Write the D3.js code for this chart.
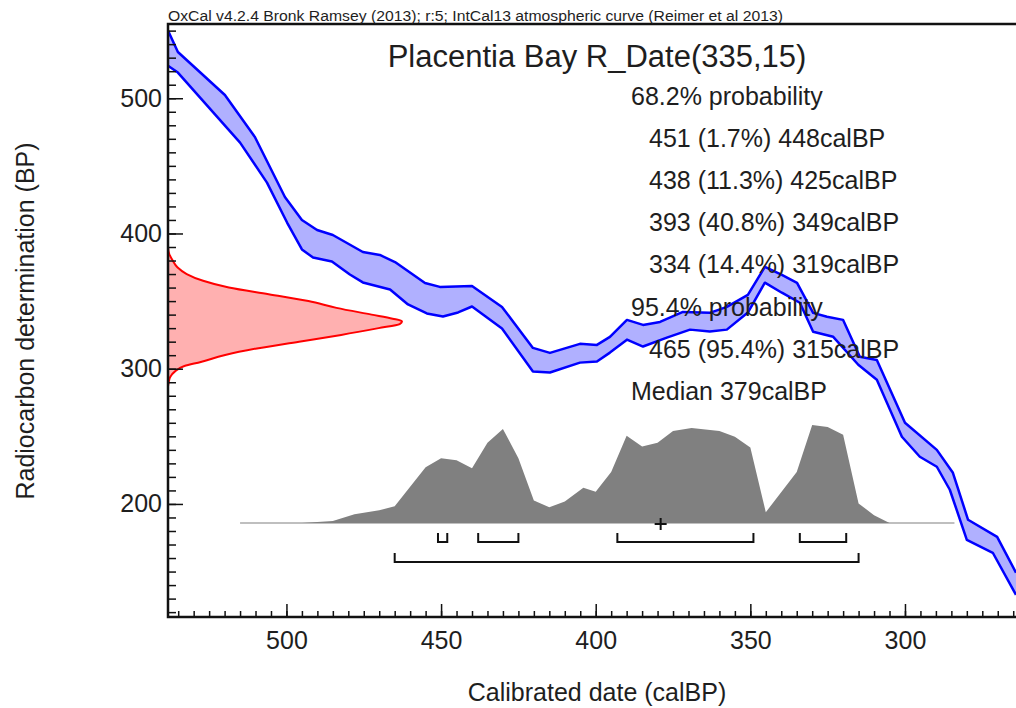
<!DOCTYPE html>
<html>
<head>
<meta charset="utf-8">
<script src="https://cdn.jsdelivr.net/npm/d3@7"></script>
<style>
  body { margin: 0; background: #fff; }
  text { font-family: "Liberation Sans", Arial, sans-serif; fill: #1e1e1e; }
</style>
</head>
<body>
<div id="wrapper"></div>
<script>
// ---- data ----
const headerText = "OxCal v4.2.4 Bronk Ramsey (2013); r:5; IntCal13 atmospheric curve (Reimer et al 2013)"
const titleText = "Placentia Bay R_Date(335,15)"
const summaryLines = [
  "68.2% probability",
  "451 (1.7%) 448calBP",
  "438 (11.3%) 425calBP",
  "393 (40.8%) 349calBP",
  "334 (14.4%) 319calBP",
  "95.4% probability",
  "465 (95.4%) 315calBP",
  "Median 379calBP",
]
const xTicks = [500, 450, 400, 350, 300]
const yTicks = [200, 300, 400, 500]

// calibration curve, upper and lower edge [calBP, BP]
const curveUpper = [[538.3, 550], [535.1, 534.2], [519.9, 502.4], [510.2, 471.3], [500.5, 427], [495, 410],
  [490.1, 402.6], [485, 398.9], [475.3, 386.3], [469.8, 384.1], [464.9, 378.9], [455.2, 363.4], [450.4, 360.5],
  [440, 361.2], [430.3, 345.7], [420.3, 315.4], [414.8, 311.7], [405.1, 318.4], [399.6, 317.6], [395.4, 323.5],
  [389.9, 336.1], [384.7, 332.4], [379.2, 334.6], [371.8, 342], [363.1, 341.3], [357.6, 345.7], [350.8, 354.6],
  [345.3, 375.3], [339.8, 369.4], [334.9, 363.5], [329.7, 341.3], [325.2, 338.4], [320, 336.1], [314.6, 308.8],
  [309.1, 306.5], [300, 260], [289.7, 240], [284.5, 223], [279.6, 188.3], [270.2, 175.7], [264.1, 149.1]]
const curveLower = [[538.3, 524], [535.1, 519], [515, 467.2], [506.3, 437.6], [499.8, 408.1], [495, 388.2],
  [491.4, 382.2], [485.3, 379.3], [479.5, 369.7], [475.3, 363.8], [466.5, 358.6], [460.7, 347.5], [454.6, 340.9],
  [449.4, 338.6], [444.5, 341.6], [440, 346], [430.3, 329.7], [420.3, 297.9], [414.8, 297.2], [405.1, 304.5],
  [399.6, 305.3], [395.4, 311.9], [389.9, 321.5], [384.7, 316.4], [377, 323], [369.5, 328.9], [363.1, 327.5],
  [357.6, 328.9], [350.8, 341.5], [345.3, 363.6], [339.8, 356.2], [334, 348.8], [329.7, 327.3], [323.2, 323.6],
  [315.1, 302.9], [309.1, 291.8], [301, 249.7], [295.2, 234.9], [289.7, 227.5], [285.5, 210.5], [280, 173.5],
  [271.6, 163.9], [264.1, 132.8]]

// radiocarbon date distribution (relative density by BP)
const rdateBP = [390, 385, 380, 375, 370, 365, 360, 355, 350, 345, 340, 337, 335, 333, 330, 325, 320, 315, 310, 305, 302, 298, 294, 290, 287]
const rdateDensity = [0, 0.005, 0.02, 0.04, 0.08, 0.15, 0.26, 0.43, 0.6, 0.72, 0.87, 0.96, 1.0, 0.99, 0.9, 0.74, 0.56, 0.38, 0.24, 0.14, 0.07, 0.03, 0.01, 0.003, 0]

// calibrated distribution (relative density by calBP)
const calBP = [515, 495, 485, 478, 470, 465, 455, 450, 445, 440, 435, 430, 425, 420, 415, 410, 404, 400, 395, 390,
  385, 380, 375, 369, 360, 355, 350, 345, 335, 330, 325, 320, 315, 310, 305, 284]
const calDensity = [0, 0, 0.02, 0.09, 0.13, 0.17, 0.57, 0.66, 0.64, 0.56, 0.82, 0.96, 0.66, 0.23, 0.16, 0.22, 0.36,
  0.32, 0.52, 0.89, 0.78, 0.82, 0.94, 0.97, 0.94, 0.88, 0.77, 0.11, 0.52, 1.0, 0.98, 0.9, 0.2, 0.08, 0, 0]

const ranges68 = [[451, 448], [438, 425], [393, 349], [334, 319]]
const ranges95 = [[465, 315]]
const median = 379

// ---- dimensions ----
const width = 1016
const height = 708
const margin = { top: 24, right: 0, bottom: 91, left: 168 }
const boundedWidth = width - margin.left - margin.right
const boundedHeight = height - margin.top - margin.bottom

const svg = d3.select("#wrapper").append("svg")
  .attr("width", width)
  .attr("height", height)

const bounds = svg.append("g")
  .attr("transform", `translate(${margin.left},${margin.top})`)

// ---- scales ----
const xScale = d3.scaleLinear()
  .domain([538.3, 264.1])
  .range([0, boundedWidth])

const yScale = d3.scaleLinear()
  .domain([116.4, 554.9])
  .range([boundedHeight, 0])

const rdateScale = d3.scaleLinear().domain([0, 1]).range([0, 234])
const histBase = yScale(185.9)
const histScale = d3.scaleLinear().domain([0, 1]).range([histBase, histBase - 98])

bounds.append("defs").append("clipPath").attr("id", "plotclip")
  .append("rect").attr("width", boundedWidth).attr("height", boundedHeight)

const plot = bounds.append("g").attr("clip-path", "url(#plotclip)")

// ---- calibration curve band ----
const line = d3.line().x(d => xScale(d[0])).y(d => yScale(d[1]))
const bandPoints = curveUpper.concat(curveLower.slice().reverse())
plot.append("path")
  .attr("d", line(bandPoints) + "Z")
  .attr("fill", "#b0b0ff")
  .attr("stroke", "none")
plot.selectAll(".edge")
  .data([curveUpper, curveLower])
  .enter().append("path")
    .attr("d", line)
    .attr("fill", "none")
    .attr("stroke", "#0000ff")
    .attr("stroke-width", 2.5)
    .attr("stroke-linejoin", "round")

// ---- radiocarbon date profile ----
const rdate = rdateBP.map((bp, i) => [bp, rdateDensity[i]])
const rdateArea = d3.area()
  .curve(d3.curveMonotoneY)
  .y(d => yScale(d[0]))
  .x0(0)
  .x1(d => rdateScale(d[1]))
plot.append("path")
  .attr("d", rdateArea(rdate))
  .attr("fill", "#ffb0b0")
const rdateLine = d3.line()
  .curve(d3.curveMonotoneY)
  .y(d => yScale(d[0]))
  .x(d => rdateScale(d[1]))
plot.append("path")
  .attr("d", rdateLine(rdate))
  .attr("fill", "none")
  .attr("stroke", "#ff0000")
  .attr("stroke-width", 2)

// ---- calibrated distribution ----
const hist = calBP.map((c, i) => [c, calDensity[i]])
const histArea = d3.area()
  .x(d => xScale(d[0]))
  .y0(histBase)
  .y1(d => histScale(d[1]))
plot.append("path")
  .attr("d", histArea(hist))
  .attr("fill", "#808080")
plot.append("line")
  .attr("x1", xScale(calBP[0]))
  .attr("x2", xScale(calBP[calBP.length - 1]))
  .attr("y1", histBase)
  .attr("y2", histBase)
  .attr("stroke", "#808080")
  .attr("stroke-width", 1.2)

// range brackets
const drawRanges = (ranges, yOff) => {
  const yy = histBase + yOff
  plot.selectAll(null)
    .data(ranges)
    .enter().append("path")
      .attr("d", d => `M${xScale(d[0])},${yy - 9}V${yy}H${xScale(d[1])}V${yy - 9}`)
      .attr("fill", "none")
      .attr("stroke", "#111")
      .attr("stroke-width", 2)
}
drawRanges(ranges68, 19)
drawRanges(ranges95, 39)

// median cross
plot.append("path")
  .attr("d", `M${xScale(median) - 6},${histBase + 1}h12M${xScale(median)},${histBase - 5}v12`)
  .attr("stroke", "#111")
  .attr("stroke-width", 2)

// ---- axes ----
const xAxis = bounds.append("g")
  .attr("transform", `translate(0,${boundedHeight})`)
xAxis.call(d3.axisBottom(xScale).tickValues(d3.range(535, 264, -5)).tickSize(-6).tickFormat(""))
xAxis.append("g").call(d3.axisBottom(xScale).tickValues(xTicks).tickSize(-13).tickPadding(14))
xAxis.selectAll(".domain").remove()
xAxis.selectAll("line").attr("stroke", "#111").attr("stroke-width", 1.5)
xAxis.selectAll("text").style("font-size", "25px").attr("fill", "#1e1e1e")

const yAxis = bounds.append("g")
yAxis.call(d3.axisLeft(yScale).tickValues(d3.range(120, 555, 10)).tickSize(-8).tickFormat(""))
yAxis.append("g").call(d3.axisLeft(yScale).tickValues(yTicks).tickSize(-15).tickPadding(6))
yAxis.selectAll(".domain").remove()
yAxis.selectAll("line").attr("stroke", "#111").attr("stroke-width", 1.5)
yAxis.selectAll("text").style("font-size", "25px").attr("fill", "#1e1e1e")

// frame
bounds.append("path")
  .attr("d", `M${boundedWidth + 2},0H0V${boundedHeight}H${boundedWidth + 2}`)
  .attr("fill", "none")
  .attr("stroke", "#111")
  .attr("stroke-width", 2.5)

// ---- texts ----
svg.append("text")
  .attr("x", margin.left)
  .attr("y", 21)
  .style("font-size", "14px")
  .attr("textLength", 615)
  .attr("lengthAdjust", "spacingAndGlyphs")
  .text(headerText)

svg.append("text")
  .attr("x", 597)
  .attr("y", 67)
  .attr("text-anchor", "middle")
  .style("font-size", "31px")
  .text(titleText)

svg.selectAll(".summary")
  .data(summaryLines)
  .enter().append("text")
    .attr("x", d => /^\d{3} /.test(d) ? 649 : 631)
    .attr("y", (d, i) => 105 + i * 42.1)
    .style("font-size", "25px")
    .text(d => d)

svg.append("text")
  .attr("x", 597)
  .attr("y", 701)
  .attr("text-anchor", "middle")
  .style("font-size", "25px")
  .text("Calibrated date (calBP)")

svg.append("text")
  .attr("transform", "translate(34,321) rotate(-90)")
  .attr("text-anchor", "middle")
  .style("font-size", "25px")
  .text("Radiocarbon determination (BP)")
</script>
</body>
</html>
